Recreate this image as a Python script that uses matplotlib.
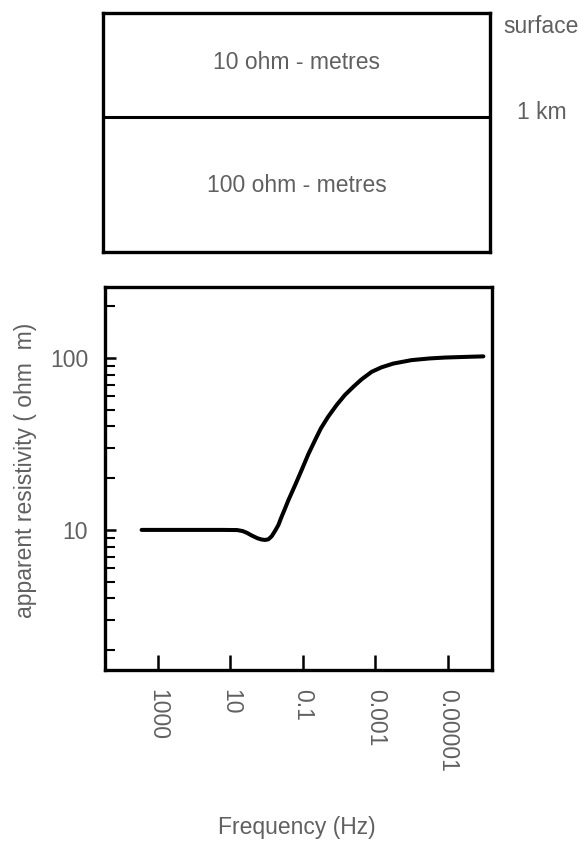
import matplotlib
matplotlib.use("Agg")
import matplotlib.pyplot as plt
from matplotlib.ticker import LogLocator, NullFormatter, FixedLocator

# two-layer earth model
layer_labels = ["10 ohm - metres", "100 ohm - metres"]
depth_labels = ["surface", "1 km"]

# apparent resistivity curve
freq_hz = [2.8e3, 1e2, 16, 6.5, 4.6, 3.5, 2.6, 1.8, 1.4, 1.1, 0.89, 0.72, 0.58,
           0.47, 0.40, 0.32, 0.25, 0.16, 0.108, 0.071, 0.046, 0.032, 0.020,
           0.0117, 0.0069, 0.0040, 0.0024, 0.00126, 6.8e-4, 3.2e-4, 1.0e-4,
           3.2e-5, 1.2e-5, 3.2e-6, 1.05e-6]
rho_app = [10, 10, 10, 9.98, 9.85, 9.62, 9.29, 8.95, 8.8, 8.74, 8.82, 9.2, 9.89,
           10.7, 11.7, 13.1, 14.9, 18.4, 22.3, 27.5, 33.3, 38.9, 45.6,
           53.3, 61.0, 68.2, 75.2, 83.2, 88.3, 92.9, 97.3,
           99.5, 100.7, 101.6, 102.3]

xtick_vals = [1000, 10, 0.1, 0.001, 0.00001]
xtick_labels = ["1000", "10", "0.1", "0.001", "0.00001"]
ytick_vals = [10, 100]
ytick_labels = ["10", "100"]

TXT = "#606060"
FS = 16.5
plt.rcParams["font.family"] = ["Liberation Sans", "DejaVu Sans"]

fig = plt.figure(figsize=(5.86, 8.43), dpi=100)

# --- layer box ---
box = fig.add_axes([0.176, 0.701, 0.660, 0.284])
box.set_xlim(0, 1)
box.set_ylim(0, 1)
box.set_xticks([])
box.set_yticks([])
for s in box.spines.values():
    s.set_linewidth(2.4)
divider = 0.565
box.axhline(divider, color="black", lw=2.2)
box.text(0.5, 0.79, layer_labels[0], ha="center", va="center",
         fontsize=FS, color=TXT)
box.text(0.5, 0.28, layer_labels[1], ha="center", va="center",
         fontsize=FS, color=TXT)
box.text(1.034, 0.941, depth_labels[0], transform=box.transAxes, ha="left",
         va="center", fontsize=FS, color=TXT, clip_on=False)
box.text(1.07, 0.582, depth_labels[1], transform=box.transAxes, ha="left",
         va="center", fontsize=FS, color=TXT)

# --- resistivity curve ---
ax = fig.add_axes([0.179, 0.2052, 0.660, 0.4543])
ax.plot(freq_hz, rho_app, color="black", lw=2.9, solid_capstyle="round",
        solid_joinstyle="round")
ax.set_xscale("log")
ax.set_yscale("log")
ax.set_xlim(2.88e4, 6.2e-7)
ax.set_ylim(1.53, 259)

ax.xaxis.set_major_locator(FixedLocator(xtick_vals))
ax.xaxis.set_minor_locator(FixedLocator([]))
ax.set_xticklabels(xtick_labels, rotation=-90, va="top", ha="center")
ax.yaxis.set_major_locator(FixedLocator(ytick_vals))
ax.yaxis.set_minor_locator(LogLocator(base=10, subs=range(2, 10)))
ax.yaxis.set_minor_formatter(NullFormatter())
ax.set_yticklabels(ytick_labels)

ax.tick_params(axis="x", which="major", direction="in", length=11, width=1.8,
               pad=14, labelsize=FS, labelcolor=TXT)
ax.tick_params(axis="y", which="major", direction="in", length=8, width=1.8,
               pad=12, labelsize=FS, labelcolor=TXT)
ax.tick_params(axis="y", which="minor", direction="in", length=7, width=1.5)
for s in ax.spines.values():
    s.set_linewidth(2.4)

ax.set_ylabel("apparent resistivity ( ohm  m)", fontsize=FS, color=TXT)
ax.yaxis.set_label_coords(-0.176, 0.522)
fig.text(0.507, 0.018, "Frequency (Hz)", ha="center", va="center",
         fontsize=FS, color=TXT)

fig.savefig("out.png", dpi=100)
